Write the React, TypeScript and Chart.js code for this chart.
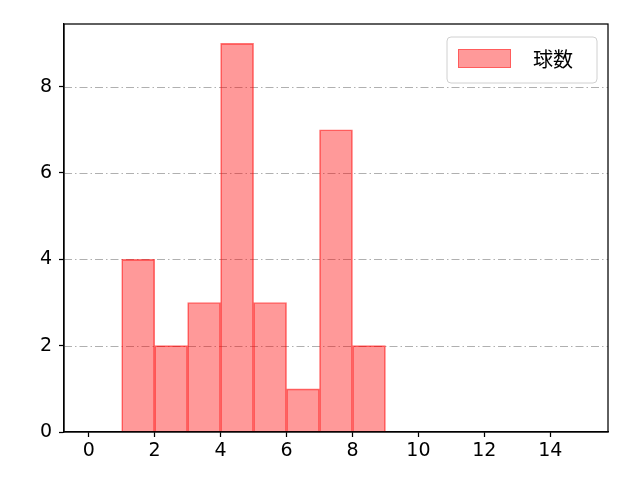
import { useEffect, useRef } from 'react';
import { Chart, registerables } from 'chart.js';

Chart.register(...registerables);

const binStarts = [1, 2, 3, 4, 5, 6, 7, 8];
const counts = [4, 2, 3, 9, 3, 1, 7, 2];
const xTicks = [0, 2, 4, 6, 8, 10, 12, 14];
const yTicks = [0, 2, 4, 6, 8];
const seriesName = '球数';

const FONT = "'Noto Sans CJK JP', 'DejaVu Sans', sans-serif";
const NUM_FONT = "'DejaVu Sans', sans-serif";

const framePlugin = {
  id: 'frameAndLegend',
  afterDraw(chart: Chart) {
    const { ctx, chartArea } = chart;
    const { left, right, top, bottom } = chartArea;
    ctx.save();
    // axes frame
    ctx.strokeStyle = '#000';
    ctx.lineWidth = 1.25;
    ctx.strokeRect(left, top, right - left, bottom - top);

    // legend box
    const bx = 447, by = 37, bw = 150, bh = 46, r = 4;
    ctx.beginPath();
    ctx.moveTo(bx + r, by);
    ctx.arcTo(bx + bw, by, bx + bw, by + bh, r);
    ctx.arcTo(bx + bw, by + bh, bx, by + bh, r);
    ctx.arcTo(bx, by + bh, bx, by, r);
    ctx.arcTo(bx, by, bx + bw, by, r);
    ctx.closePath();
    ctx.fillStyle = 'rgba(255,255,255,0.8)';
    ctx.fill();
    ctx.strokeStyle = '#d0d0d0';
    ctx.lineWidth = 1;
    ctx.stroke();

    ctx.fillStyle = 'rgba(255,0,0,0.4)';
    ctx.fillRect(458, 49, 53, 19);
    ctx.strokeStyle = 'rgba(255,0,0,0.4)';
    ctx.strokeRect(458.5, 49.5, 52, 18);

    ctx.fillStyle = '#000';
    ctx.font = `20px ${FONT}`;
    ctx.textBaseline = 'middle';
    ctx.textAlign = 'left';
    ctx.fillText(seriesName, 533, 59);
    ctx.restore();
  },
};

const App = () => {
  const canvasRef = useRef<HTMLCanvasElement>(null);
  const chartRef = useRef<Chart | null>(null);

  useEffect(() => {
    if (!canvasRef.current) return;
    if (chartRef.current) chartRef.current.destroy();

    chartRef.current = new Chart(canvasRef.current, {
      type: 'bar',
      data: {
        datasets: [
          {
            label: seriesName,
            data: binStarts.map((s, i) => ({ x: s + 0.5, y: counts[i] })),
            backgroundColor: 'rgba(255,0,0,0.4)',
            borderColor: 'rgba(255,0,0,0.55)',
            borderWidth: 1,
            barPercentage: 1,
            categoryPercentage: 1,
          },
        ],
      },
      options: {
        animation: false,
        responsive: false,
        devicePixelRatio: 1,
        layout: { padding: { left: 0, top: 24, right: 32, bottom: 0 } },
        plugins: { legend: { display: false }, tooltip: { enabled: false } },
        scales: {
          x: {
            type: 'linear',
            offset: false,
            min: -0.75,
            max: 15.75,
            afterBuildTicks: (scale: any) => {
              scale.ticks = xTicks.map((v) => ({ value: v }));
            },
            afterFit: (scale: any) => {
              scale.height = 48;
            },
            ticks: {
              color: '#000',
              font: { family: NUM_FONT, size: 19 },
              padding: 3,
              maxRotation: 0,
              autoSkip: false,
            },
            grid: {
              offset: false,
              drawOnChartArea: false,
              drawTicks: true,
              tickLength: 5,
              tickColor: '#000',
              tickWidth: 1.25,
            },
            border: { color: '#000', width: 1.25 },
          },
          y: {
            type: 'linear',
            min: 0,
            max: 9.45,
            afterBuildTicks: (scale: any) => {
              scale.ticks = yTicks.map((v) => ({ value: v }));
            },
            afterFit: (scale: any) => {
              scale.width = 64;
            },
            ticks: {
              color: '#000',
              font: { family: NUM_FONT, size: 19 },
              padding: 7,
              autoSkip: false,
            },
            grid: {
              drawOnChartArea: false,
              tickLength: 5,
              tickColor: '#000',
              tickWidth: 1.25,
            },
            border: { color: '#000', width: 1.25 },
          },
        },
      },
      plugins: [
        {
          id: 'dashGrid',
          beforeDatasetsDraw(chart: Chart) {
            const { ctx, chartArea, scales } = chart;
            ctx.save();
            ctx.strokeStyle = '#b0b0b0';
            ctx.lineWidth = 1;
            ctx.setLineDash([8, 3, 1.5, 3]);
            yTicks.forEach((v) => {
              if (v === 0) return;
              const y = Math.round(scales.y.getPixelForValue(v)) + 0.5;
              ctx.beginPath();
              ctx.moveTo(chartArea.left, y);
              ctx.lineTo(chartArea.right, y);
              ctx.stroke();
            });
            ctx.restore();
          },
        },
        framePlugin,
      ],
    } as any);

    return () => {
      if (chartRef.current) {
        chartRef.current.destroy();
        chartRef.current = null;
      }
    };
  }, []);

  return (
    <div style={{ position: 'fixed', left: 0, top: 0, width: 640, height: 480, background: '#fff' }}>
      <canvas ref={canvasRef} width={640} height={480} />
    </div>
  );
};

export default App;
